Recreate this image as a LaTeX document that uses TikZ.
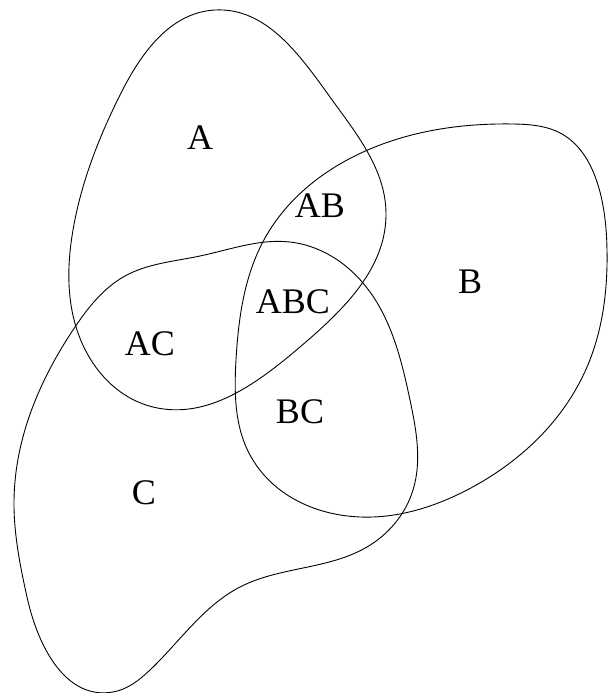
\documentclass[tikz,border=0pt]{standalone}
\usepackage{fontspec}
\setmainfont{Liberation Serif}
\usetikzlibrary{hobby}
\begin{document}
\begin{tikzpicture}[x=1pt,y=-1pt,
  setline/.style={line width=0.9pt, black},
  lbl/.style={anchor=base, inner sep=0pt, font=\fontsize{36}{40}\selectfont}]
\useasboundingbox (0,0) rectangle (608,693);
% set A
\draw[setline, use Hobby shortcut, closed=true]
 (215,10) .. (330,97) .. (386,213) .. (300,347) .. (153,407) .. (77,330)
 .. (73,230) .. (120,95);
% set B
\draw[setline, use Hobby shortcut, closed=true]
 (513,124) .. (562,134) .. (598,185) .. (607,250) .. (587,367) .. (467,490) .. (373,517)
 .. (250,455) .. (236,360) .. (265,238) .. (370,149);
% set C
\draw[setline, use Hobby shortcut, closed=true]
 (290,242) .. (363,283) .. (410,400) .. (413,490) .. (367,547) .. (240,587)
 .. (150,670) .. (113,692) .. (27,597) .. (14,500) .. (75,327) .. (125,276) .. (200,256);
\node[lbl] (lA) at (200,149) {A};
\node[lbl] (lAB) at (320,217) {AB};
\node[lbl] (lABC) at (293,313) {ABC};
\node[lbl] (lAC) at (150,355) {AC};
\node[lbl] (lB) at (470,293) {B};
\node[lbl] (lBC) at (300,423) {BC};
\node[lbl] (lC) at (144,504) {C};
\end{tikzpicture}
\end{document}
